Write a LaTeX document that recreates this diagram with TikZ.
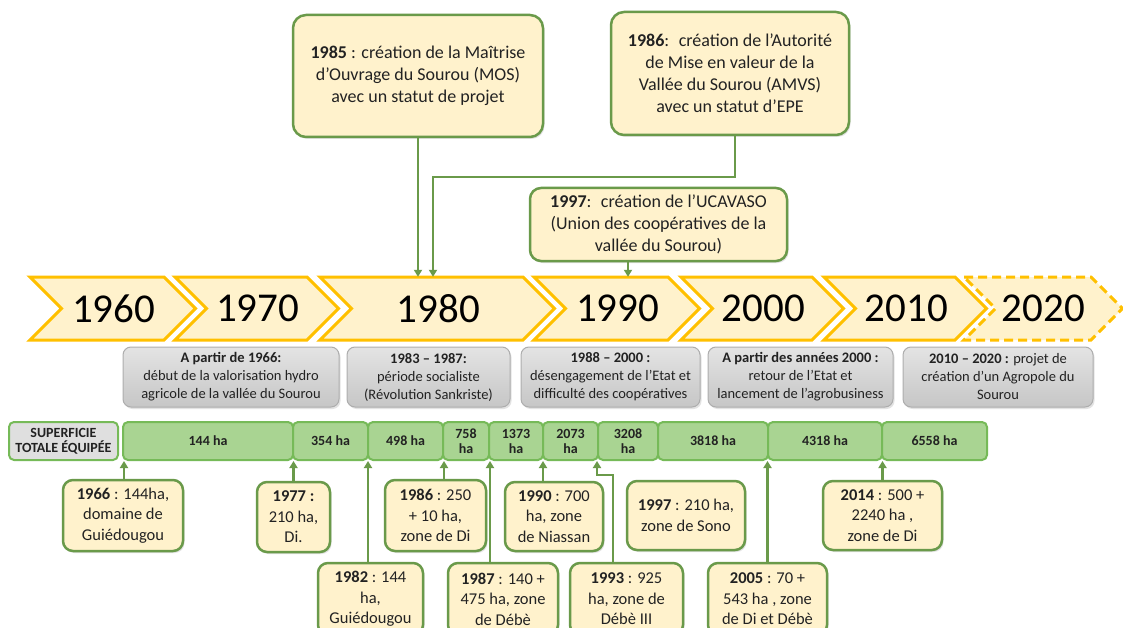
\documentclass[tikz,border=0pt]{standalone}
\usepackage{fontspec}
\setmainfont{Carlito}
\usetikzlibrary{arrows.meta,calc,shadows}
\definecolor{boxfill}{HTML}{FFF2CC}
\definecolor{gdraw}{RGB}{106,154,74}
\definecolor{chev}{HTML}{FFC000}
\definecolor{chevfill}{HTML}{FFF2CC}
\definecolor{segfill}{RGB}{169,212,146}
\definecolor{segdraw}{RGB}{118,186,88}
\definecolor{greytop}{HTML}{E4E4E4}
\definecolor{greybot}{HTML}{C6C6C6}
\definecolor{greydraw}{HTML}{ADADAD}
\definecolor{txt}{HTML}{222222}
\tikzset{
  shad/.style={drop shadow={opacity=0.22,shadow xshift=1.5pt,shadow yshift=-2pt}},
  ybox/.style={draw=gdraw, line width=2.5pt, fill=boxfill, rounded corners=13pt,
    align=center, inner sep=0pt, text=txt, shad},
  topbox/.style={ybox, font=\fontsize{18}{22}\selectfont},
  lowbox/.style={ybox, rounded corners=10pt, font=\fontsize{16.5}{20.5}\selectfont},
  chevstyle/.style={draw=chev, fill=chevfill, line width=3pt, line join=miter},
  yeartext/.style={font=\fontsize{41}{50}\selectfont, text=black, inner sep=0pt},
  greybox/.style={draw=greydraw, line width=1pt, top color=greytop, bottom color=greybot,
    rounded corners=8pt, align=center, inner sep=0pt, text=txt,
    font=\fontsize{14.5}{18}\selectfont, minimum height=60, shad},
  seg/.style={draw=segdraw, fill=segfill, line width=2pt, rounded corners=5pt,
    align=center, inner sep=0pt, text=txt, minimum height=38,
    font=\fontsize{14}{15}\selectfont\bfseries},
  arr/.style={draw=gdraw, line width=2.5pt, -{Triangle[length=7pt,width=8pt]}},
}
\begin{document}
\begin{tikzpicture}[x=1pt,y=-1pt]
\useasboundingbox (0,0) rectangle (1123,628);
\clip (0,0) rectangle (1123,628);
\fill[white] (0,0) rectangle (1123,628);

% chevrons
\foreach \l/\r/\t in {30/164/1960, 175/307/1970, 320/523/1980, 534/668/1990, 681/812/2000, 824/955/2010}{
  \draw[chevstyle] (\l,277) -- (\r,277) -- (\r+31.5,308.5) -- (\r,340) -- (\l,340) -- (\l+31.5,308.5) -- cycle;
  \node[yeartext, minimum height=63] (c\t) at ({(\l+31.5+\r)/2+1},308.5) {\t};
}
\draw[chevstyle, dashed, dash pattern=on 9pt off 5pt] (964,277) -- (1091,277) -- (1122.5,308.5) -- (1091,340) -- (964,340) -- (995.5,308.5) -- cycle;
\node[yeartext, minimum height=63] (c2020) at ({(995.5+1091)/2},308.5) {2020};

% top boxes
\node[topbox, minimum width=250, minimum height=122] (b1985) at (418,76)
  {{\bfseries 1985} : création de la Maîtrise\\d’Ouvrage du Sourou (MOS)\\avec un statut de projet};
\node[topbox, minimum width=238, minimum height=123] (b1986) at (730,73.5)
  {{\bfseries 1986}:~ création de l’Autorité\\de Mise en valeur de la\\Vallée du Sourou (AMVS)\\avec un statut d’EPE};
\node[topbox, rounded corners=11pt, minimum width=257, minimum height=73] (b1997) at (658.5,224.5)
  {{\bfseries 1997}:~ création de l’UCAVASO\\(Union des coopératives de la\\vallée du Sourou)};

\coordinate (k1986) at (433,177);
\draw[arr] (b1985.south) -- (b1985.south |- c1980.north);
\draw[arr] ([xshift=5pt]b1986.south) |- (k1986) -- (k1986 |- c1980.north);
\draw[arr] ([xshift=-30.5pt]b1997.south) -- ([xshift=-30.5pt]b1997.south |- c1990.north);

% grey period boxes
\node[greybox, minimum width=216] (g1) at (231,377)
  {{\bfseries A partir de 1966:}\\début de la valorisation hydro\\agricole de la vallée du Sourou};
\node[greybox, minimum width=163] (g2) at (428.5,377)
  {{\bfseries 1983 – 1987:}\\période socialiste\\(Révolution Sankriste)};
\node[greybox, minimum width=179] (g3) at (610.5,377)
  {{\bfseries 1988 – 2000 :}\\désengagement de l’Etat et\\difficulté des coopératives};
\node[greybox, minimum width=185] (g4) at (800.5,377)
  {{\bfseries A partir des années 2000 :}\\retour de l’Etat et\\lancement de l’agrobusiness};
\node[greybox, minimum width=190] (g5) at (998,377)
  {{\bfseries 2010 – 2020 :} projet de\\création d’un Agropole du\\Sourou};

% surface bar
\node[seg, fill=greytop!85!greybot, minimum width=109] (sup) at (63.5,441) {SUPERFICIE\\TOTALE ÉQUIPÉE};
\foreach \a/\b/\n/\t in {123/293/s144/144 ha, 293/368/s354/354 ha, 368/443/s498/498 ha,
   443/489/s758/758\\ha, 489/543/s1373/1373\\ha, 543/598/s2073/2073\\ha, 598/658/s3208/3208\\ha,
   658/768/s3818/3818 ha, 768/882/s4318/4318 ha, 882/987/s6558/6558 ha}{
  \node[seg, minimum width={\b-\a}] (\n) at ({(\a+\b)/2},441) {\t};
}

% lower boxes
\node[lowbox, minimum width=120, minimum height=71] (b1966) at (123,515.5)
  {{\bfseries 1966} : 144ha,\\domaine de\\Guiédougou};
\node[lowbox, minimum width=73, minimum height=70] (b1977) at (293.5,517)
  {{\bfseries 1977 :}\\210 ha,\\Di.};
\node[lowbox, minimum width=105, minimum height=72] (b1982) at (370.5,599)
  {{\bfseries 1982} : 144\\ha,\\Guiédougou};
\node[lowbox, minimum width=101, minimum height=71] (b1986l) at (435.5,515.5)
  {{\bfseries 1986} : 250\\+ 10 ha,\\zone de Di};
\node[lowbox, minimum width=110, minimum height=72] (b1987) at (503,599)
  {{\bfseries 1987} : 140 +\\475 ha, zone\\de Débè};
\node[lowbox, minimum width=98, minimum height=69] (b1990) at (554,516.5)
  {{\bfseries 1990} : 700\\ha, zone\\de Niassan};
\node[lowbox, minimum width=113, minimum height=72] (b1993) at (626.5,599)
  {{\bfseries 1993} : 925\\ha, zone de\\Débè III};
\node[lowbox, minimum width=118, minimum height=69] (b1997l) at (686,515.5)
  {{\bfseries 1997} : 210 ha,\\zone de Sono};
\node[lowbox, minimum width=119, minimum height=72] (b2005) at (767.5,599)
  {{\bfseries 2005} : 70 +\\543 ha , zone\\de Di et Débè};
\node[lowbox, minimum width=119, minimum height=69] (b2014) at (882.5,515.5)
  {{\bfseries 2014} : 500 +\\2240 ha ,\\zone de Di};

% arrows to bar
\draw[arr] ([xshift=1pt]b1966.north) -- ([xshift=1pt]b1966.north |- s144.south);
\draw[arr] (b1977.north) -- (b1977.north |- s144.south);
\draw[arr] ([xshift=-2.5pt]b1982.north) -- ([xshift=-2.5pt]b1982.north |- s498.south);
\draw[arr] ([xshift=8.5pt]b1986l.north) -- ([xshift=8.5pt]b1986l.north |- s758.south);
\draw[arr] ([xshift=-13pt]b1987.north) -- ([xshift=-13pt]b1987.north |- s1373.south);
\draw[arr] ([xshift=-11pt]b1990.north) -- ([xshift=-11pt]b1990.north |- s2073.south);
\coordinate (k1993) at (597,475);
\draw[arr] ([xshift=-13.5pt]b1993.north) |- (k1993) -- (k1993 |- s3208.south);
\draw[arr] (b2005.north) -- (b2005.north |- s4318.south);
\draw[arr] (b2014.north) -- (b2014.north |- s6558.south);
\end{tikzpicture}
\end{document}
